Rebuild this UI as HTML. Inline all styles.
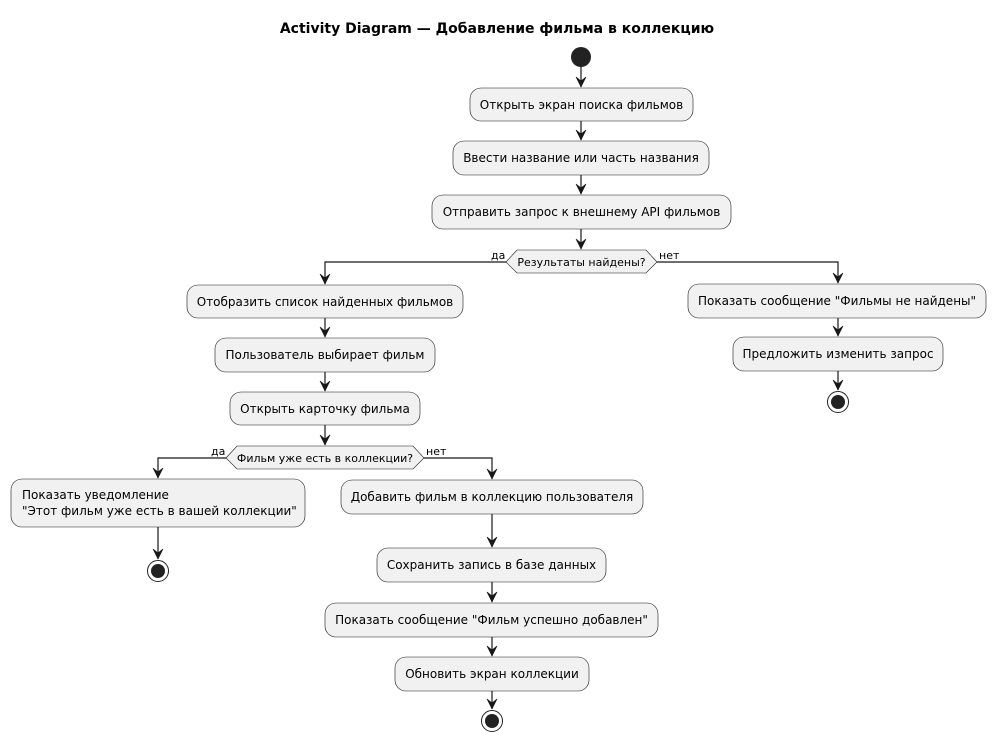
<!DOCTYPE html>
<html><head><meta charset="utf-8"><style>
html,body{margin:0;padding:0;background:#fff}
svg{display:block}
text{font-family:"DejaVu Sans","Liberation Sans",sans-serif;fill:#000}
.b{fill:#F1F1F1;stroke:#181818;stroke-width:0.6}
.l{stroke:#181818;stroke-width:1.2;fill:none}
.t{font-size:12px}
.s{font-size:11px}
</style></head><body>
<svg width="996" height="742" viewBox="0 0 996 742" xmlns="http://www.w3.org/2000/svg">
<defs>
<marker id="a" markerUnits="userSpaceOnUse" markerWidth="14" markerHeight="14" viewBox="-12 -7 14 14" refX="0" refY="0" orient="auto">
<path d="M0,0 L-10,-5 L-6,0 L-10,5 Z" fill="#181818" stroke="#181818" stroke-width="0.6"/>
</marker>
</defs>
<text x="497" y="33" text-anchor="middle" style="font-size:14px;font-weight:bold">Activity Diagram — Добавление фильма в коллекцию</text>

<circle cx="581" cy="57" r="10" fill="#222"/>
<line class="l" x1="581" y1="67" x2="581" y2="87" marker-end="url(#a)"/>
<rect class="b" x="470" y="88" width="223" height="33" rx="11"/>
<text class="t" x="581.5" y="109" text-anchor="middle">Открыть экран поиска фильмов</text>
<line class="l" x1="581" y1="121" x2="581" y2="140" marker-end="url(#a)"/>
<rect class="b" x="453" y="141" width="256" height="34" rx="11"/>
<text class="t" x="581" y="162" text-anchor="middle">Ввести название или часть названия</text>
<line class="l" x1="581" y1="175" x2="581" y2="194" marker-end="url(#a)"/>
<rect class="b" x="432" y="195" width="299" height="34" rx="11"/>
<text class="t" x="581.5" y="216" text-anchor="middle">Отправить запрос к внешнему API фильмов</text>
<line class="l" x1="581" y1="229" x2="581" y2="249" marker-end="url(#a)"/>

<polygon class="b" points="506,262 517,250 646,250 657,262 646,273 517,273"/>
<text class="s" x="581.5" y="266" text-anchor="middle">Результаты найдены?</text>
<text class="s" x="491" y="259">да</text>
<text class="s" x="659" y="259">нет</text>
<polyline class="l" points="506,262 325,262 325,284" marker-end="url(#a)"/>
<polyline class="l" points="657,262 838,262 838,283" marker-end="url(#a)"/>

<rect class="b" x="187" y="285" width="276" height="33" rx="11"/>
<text class="t" x="325" y="306" text-anchor="middle">Отобразить список найденных фильмов</text>
<line class="l" x1="325" y1="318" x2="325" y2="337" marker-end="url(#a)"/>
<rect class="b" x="215" y="338" width="220" height="34" rx="11"/>
<text class="t" x="325" y="359" text-anchor="middle">Пользователь выбирает фильм</text>
<line class="l" x1="325" y1="372" x2="325" y2="391" marker-end="url(#a)"/>
<rect class="b" x="230" y="392" width="190" height="33" rx="11"/>
<text class="t" x="325" y="413" text-anchor="middle">Открыть карточку фильма</text>
<line class="l" x1="325" y1="425" x2="325" y2="445" marker-end="url(#a)"/>

<polygon class="b" points="226,458 237,446 413,446 424,458 413,469 237,469"/>
<text class="s" x="325" y="462" text-anchor="middle">Фильм уже есть в коллекции?</text>
<text class="s" x="211" y="455">да</text>
<text class="s" x="426" y="455">нет</text>
<polyline class="l" points="226,458 158,458 158,478" marker-end="url(#a)"/>
<polyline class="l" points="424,458 492,458 492,479" marker-end="url(#a)"/>

<rect class="b" x="11" y="479" width="294" height="48" rx="11"/>
<text class="t" x="22" y="499">Показать уведомление</text>
<text class="t" x="22" y="515">"Этот фильм уже есть в вашей коллекции"</text>
<line class="l" x1="158" y1="527" x2="158" y2="559" marker-end="url(#a)"/>
<circle cx="158" cy="571" r="10.5" fill="#fff" stroke="#222" stroke-width="1"/>
<circle cx="158" cy="571" r="7" fill="#222"/>

<rect class="b" x="341" y="480" width="302" height="34" rx="11"/>
<text class="t" x="492" y="501" text-anchor="middle">Добавить фильм в коллекцию пользователя</text>
<line class="l" x1="492" y1="514" x2="492" y2="547" marker-end="url(#a)"/>
<rect class="b" x="377" y="548" width="229" height="34" rx="11"/>
<text class="t" x="491.5" y="569" text-anchor="middle">Сохранить запись в базе данных</text>
<line class="l" x1="492" y1="582" x2="492" y2="602" marker-end="url(#a)"/>
<rect class="b" x="325" y="603" width="333" height="34" rx="11"/>
<text class="t" x="491.5" y="624" text-anchor="middle">Показать сообщение "Фильм успешно добавлен"</text>
<line class="l" x1="492" y1="637" x2="492" y2="656" marker-end="url(#a)"/>
<rect class="b" x="395" y="657" width="194" height="34" rx="11"/>
<text class="t" x="492" y="678" text-anchor="middle">Обновить экран коллекции</text>
<line class="l" x1="492" y1="691" x2="492" y2="709" marker-end="url(#a)"/>
<circle cx="492" cy="721" r="10.5" fill="#fff" stroke="#222" stroke-width="1"/>
<circle cx="492" cy="721" r="7" fill="#222"/>

<rect class="b" x="688" y="284" width="298" height="34" rx="11"/>
<text class="t" x="837" y="305" text-anchor="middle">Показать сообщение "Фильмы не найдены"</text>
<line class="l" x1="838" y1="318" x2="838" y2="336" marker-end="url(#a)"/>
<rect class="b" x="733" y="337" width="210" height="34" rx="11"/>
<text class="t" x="838" y="358" text-anchor="middle">Предложить изменить запрос</text>
<line class="l" x1="838" y1="371" x2="838" y2="390" marker-end="url(#a)"/>
<circle cx="838" cy="402" r="10.5" fill="#fff" stroke="#222" stroke-width="1"/>
<circle cx="838" cy="402" r="7" fill="#222"/>
</svg>
</body></html>
